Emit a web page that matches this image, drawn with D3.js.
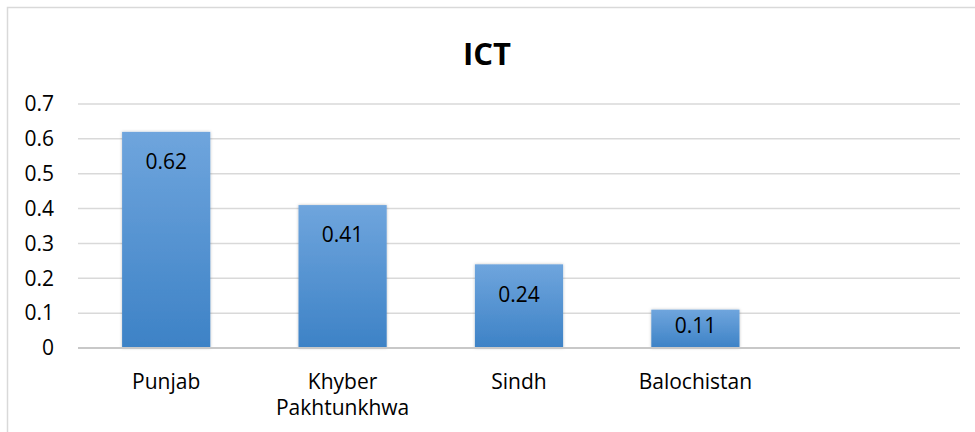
<!DOCTYPE html>
<html><head><meta charset="utf-8">
<script src="https://cdn.jsdelivr.net/npm/d3@7"></script>
<style>body{margin:0;background:#fff}svg{display:block}</style>
</head><body>
<script>
const categories = ["Punjab", "Khyber Pakhtunkhwa", "Sindh", "Balochistan", ""];
const values = [0.62, 0.41, 0.24, 0.11, null];
const yTicks = [0, 0.1, 0.2, 0.3, 0.4, 0.5, 0.6, 0.7];
const title = "ICT";

const W = 975, H = 432;
const font = "'Open Sans', sans-serif";
const svg = d3.select("body").append("svg").attr("width", W).attr("height", H);

const defs = svg.append("defs");
const g = defs.append("linearGradient").attr("id", "barGrad").attr("x1", 0).attr("x2", 0).attr("y1", 0).attr("y2", 1);
g.append("stop").attr("offset", "0%").attr("stop-color", "#6fa5dd");
g.append("stop").attr("offset", "100%").attr("stop-color", "#3d82c6");
const f = defs.append("filter").attr("id", "sh").attr("x", "-10%").attr("y", "-10%").attr("width", "120%").attr("height", "120%");
f.append("feDropShadow").attr("dx", 0).attr("dy", 0).attr("stdDeviation", 1.5).attr("flood-color", "#000").attr("flood-opacity", 0.25);

// border
svg.append("rect").attr("x", 7.5).attr("y", 7.5).attr("width", W).attr("height", H)
  .attr("fill", "none").attr("stroke", "#d9d9d9").attr("stroke-width", 1.5);

const x = d3.scaleBand().domain(categories.map((c, i) => i)).range([78, 960]).paddingInner(0.5).paddingOuter(0.25);
const y = d3.scaleLinear().domain([0, 0.7]).range([348, 104]);

// gridlines
svg.append("g").selectAll("line").data(yTicks.filter(t => t > 0)).join("line")
  .attr("x1", 78).attr("x2", 960).attr("y1", d => y(d)).attr("y2", d => y(d))
  .attr("stroke", "#d9d9d9").attr("stroke-width", 1.5);

// y axis labels
const ya = svg.append("g").attr("transform", "translate(54,0)")
  .call(d3.axisLeft(y).tickValues(yTicks).tickSize(0).tickPadding(0).tickFormat(d => d === 0 ? "0" : d3.format(".1f")(d)));
ya.select(".domain").remove();
ya.selectAll("text").attr("font-family", font).attr("font-size", 21).attr("fill", "#000");

// bars
const data = categories.map((c, i) => ({c, i, v: values[i]})).filter(d => d.v != null);
svg.append("g").selectAll("rect").data(data).join("rect")
  .attr("x", d => x(d.i)).attr("width", x.bandwidth())
  .attr("y", d => y(d.v)).attr("height", d => y(0) - y(d.v))
  .attr("fill", "url(#barGrad)").attr("filter", "url(#sh)");

// baseline
svg.append("line").attr("x1", 78).attr("x2", 960).attr("y1", y(0)).attr("y2", y(0))
  .attr("stroke", "#c8c8c8").attr("stroke-width", 2);

// value labels
svg.append("g").selectAll("text").data(data).join("text")
  .attr("x", d => x(d.i) + x.bandwidth() / 2)
  .attr("y", d => Math.min(y(d.v) + 30, y(0) - 22))
  .attr("dy", "0.35em").attr("text-anchor", "middle")
  .attr("font-family", font).attr("font-size", 21).attr("fill", "#000")
  .text(d => d3.format(".2f")(d.v));

// category labels
const xl = svg.append("g").selectAll("text").data(categories.map((c, i) => ({c, i}))).join("text")
  .attr("x", d => x(d.i) + x.bandwidth() / 2)
  .attr("y", 382).attr("text-anchor", "middle")
  .attr("font-family", font).attr("font-size", 21).attr("fill", "#000");
xl.each(function(d) {
  const words = d.c.split(" ");
  const t = d3.select(this);
  words.forEach((w, k) => t.append("tspan").attr("x", x(d.i) + x.bandwidth() / 2).attr("dy", k === 0 ? "0.35em" : 26).text(w));
});

// title
svg.append("text").attr("x", 487).attr("y", 54).attr("dy", "0.35em").attr("text-anchor", "middle")
  .attr("font-family", font).attr("font-weight", "bold").attr("font-size", 31).attr("fill", "#000").text(title);
</script>
</body></html>
